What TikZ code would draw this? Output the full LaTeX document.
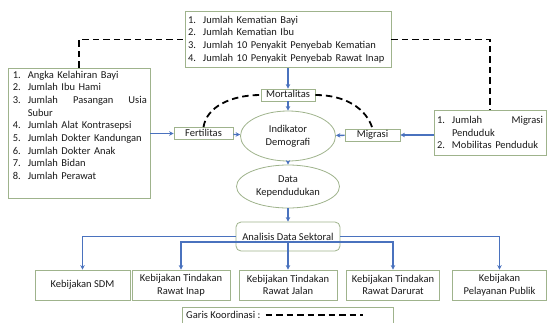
\documentclass[tikz,border=0pt]{standalone}
\usepackage{fontspec}
\setmainfont{Carlito}
\usetikzlibrary{arrows.meta,shapes.geometric}
\definecolor{bc}{HTML}{9FB38C}
\definecolor{ac}{HTML}{4A72BE}
\definecolor{tc}{HTML}{1A1A1A}
\newcommand{\li}[2]{\makebox[15pt][l]{#1.}#2}
\begin{document}
\begin{tikzpicture}[x=1pt,y=-1pt,
  every node/.style={font=\fontsize{10.5}{12.7}\selectfont, text=tc},
  box/.style={draw=bc, line width=0.8pt, fill=white, inner sep=0pt},
  ell/.style={draw=bc, line width=0.8pt, ellipse, inner sep=0pt, align=center},
  small/.style={box, minimum height=12pt, text height=7pt, text depth=2pt},
  bot/.style={box, minimum height=30pt, align=center},
  arr/.style={draw=ac, line width=1.3pt, -{Stealth[length=4.5pt,width=4.5pt]}},
  bline/.style={draw=ac, line width=1.3pt},
  dsh/.style={draw=black, line width=1.8pt, dash pattern=on 6.5pt off 4pt}]
\useasboundingbox (0,0) rectangle (549,322);
\clip (0,0) rectangle (549,322);

% top list
\node[box, minimum width=206pt, minimum height=56pt, text width=200pt, align=left] (top) at (288,39.5)
  {\li{1}{Jumlah Kematian Bayi}\\ \li{2}{Jumlah Kematian Ibu}\\ \li{3}{Jumlah 10 Penyakit Penyebab Kematian}\\ \li{4}{Jumlah 10 Penyakit Penyebab Rawat Inap}};

% left list
\node[box, minimum width=142pt, minimum height=130pt] (lbox) at (79,133) {};
\node[inner sep=0pt, text width=134pt, align=left, anchor=north west] (ltxt) at ([shift={(5,3)}]lbox.north west)
  {\li{1}{Angka Kelahiran Bayi}\\ \li{2}{Jumlah Ibu Hami}\\ \li{3}{Jumlah\hfill Pasangan\hfill Usia}\\ \hspace*{15pt}Subur\\
   \li{4}{Jumlah Alat Kontrasepsi}\\ \li{5}{Jumlah Dokter Kandungan}\\ \li{6}{Jumlah Dokter Anak}\\ \li{7}{Jumlah Bidan}\\ \li{8}{Jumlah Perawat}};

% right list
\node[box, minimum width=112pt, minimum height=45pt, text width=106pt, align=left] (rbox) at (490,132.5)
  {\li{1}{Jumlah\hfill Migrasi}\\ \hspace*{15pt}Penduduk\\ \li{2}{Mobilitas Penduduk}};

% small boxes
\node[small, minimum width=59pt] (fert) at (203.5,133.5) {Fertilitas};
\node[small, minimum width=54pt] (mort) at (288,95) {Mortalitas};
\node[small, minimum width=55pt] (mig) at (372.5,135) {Migrasi};

% ellipses
\node[ell, minimum width=95pt, minimum height=50pt] (ind) at (288,136) {Indikator\\Demografi};
\node[ell, minimum width=103pt, minimum height=43pt] (data) at (288,186.5) {Data\\Kependudukan};

% analysis
\node[box, rounded corners=5pt, minimum width=104pt, minimum height=29pt] (an) at (288,236.5) {Analisis Data Sektoral};

% bottom boxes
\node[bot, minimum width=95pt] (sdm) at (82.5,285) {Kebijakan SDM};
\node[bot, minimum width=98pt] (inap) at (181,285) {Kebijakan Tindakan\\Rawat Inap};
\node[bot, minimum width=98pt] (jalan) at (288,285) {Kebijakan Tindakan\\Rawat Jalan};
\node[bot, minimum width=93pt] (darurat) at (393,285) {Kebijakan Tindakan\\Rawat Darurat};
\node[bot, minimum width=94pt] (pub) at (499.5,285) {Kebijakan\\Pelayanan Publik};

% legend
\node[box, minimum width=211pt, minimum height=26pt, anchor=north west] (leg) at (182,307) {};
\node[anchor=west, inner sep=0pt] (legtxt) at ([shift={(4,8)}]leg.north west) {Garis Koordinasi :};
\coordinate (ld1) at ([xshift=5pt]legtxt.east);
\coordinate (ld2) at ([xshift=102pt]legtxt.east);
\draw[dsh] (ld1) -- (ld2);

% blue arrows
\draw[arr] (lbox.east |- fert.west) -- (fert.west);
\draw[arr] (fert) -- (ind);
\draw[arr] (top.south) -- (mort.north);
\draw[arr] (mort) -- (ind);
\draw[arr] (rbox.west |- mig.east) -- (mig.east);
\draw[arr] (mig) -- (ind);
\draw[arr] (ind) -- (data);
\draw[arr] (data) -- (an);
\draw[arr] (an.west) -| (sdm.north);
\draw[arr] (an.east) -| (pub.north);
\coordinate (br) at ([yshift=9.5pt]an.south);
\draw[bline] (an.south) -- (br);
\draw[arr] (br) -| (inap.north);
\draw[arr] (br) -| (darurat.north);
\draw[arr] (br) -- (jalan.north);

% dashed coordination lines
\draw[dsh] (lbox.north) |- (top.west);
\draw[dsh] (top.east) -| (rbox.north);
\draw[dsh] (fert.north) .. controls +(3,-20) and +(-30,0) .. (mort.west);
\draw[dsh] (mort.east) .. controls +(30,0) and +(-6,-20) .. (mig.north);
\end{tikzpicture}
\end{document}
